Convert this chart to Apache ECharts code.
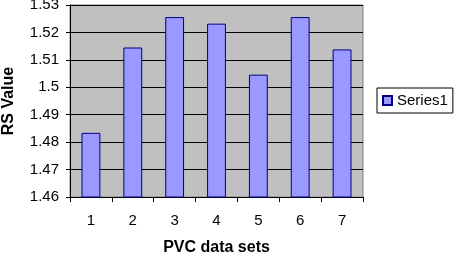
<!DOCTYPE html>
<html><head><meta charset="utf-8">
<script src="https://cdn.jsdelivr.net/npm/echarts@6/dist/echarts.min.js"></script>
<style>html,body{margin:0;padding:0;background:#fff}#c{width:458px;height:253px}</style>
</head><body><div id="c"></div>
<script>
var categories = ['1','2','3','4','5','6','7'];
var series1 = [1.4834, 1.5145, 1.5256, 1.5232, 1.5046, 1.5256, 1.5138];
var seriesName = 'Series1';
var yMin = 1.46, yMax = 1.53, yStep = 0.01;

var chart = echarts.init(document.getElementById('c'), null, {renderer:'canvas'});
var font = 'Liberation Sans, Arial, sans-serif';
chart.setOption({
  animation:false,
  backgroundColor:'#fff',
  grid:{left:70,right:95,top:5,bottom:56,containLabel:false,outerBoundsMode:'none',
    show:true,backgroundColor:'#c0c0c0',borderColor:'#808080',borderWidth:1},
  legend:{
    data:[seriesName], left:377, top:88, orient:'vertical',
    icon:'rect', itemWidth:9, itemHeight:9, itemGap:4,
    borderColor:'#000', borderWidth:1, padding:[5,5,5,5],
    backgroundColor:'#fff',
    textStyle:{fontFamily:font,fontSize:15,color:'#000'}
  },
  xAxis:{
    type:'category', data:categories,
    name:'PVC data sets', nameLocation:'middle', nameGap:43,
    nameTextStyle:{fontFamily:font,fontSize:16,fontWeight:'bold',color:'#000'},
    axisLine:{lineStyle:{color:'#000',width:1}},
    axisTick:{show:true,inside:false,length:5,lineStyle:{color:'#000'}},
    axisLabel:{fontFamily:font,fontSize:15,color:'#000',margin:16},
    splitLine:{show:false}
  },
  yAxis:{
    type:'value', min:yMin, max:yMax, interval:yStep,
    name:'RS Value', nameLocation:'middle', nameGap:53, nameRotate:90,
    nameTextStyle:{fontFamily:font,fontSize:16,fontWeight:'bold',color:'#000'},
    axisLine:{show:true,lineStyle:{color:'#000',width:1}},
    axisTick:{show:true,inside:false,length:4,lineStyle:{color:'#000'}},
    axisLabel:{fontFamily:font,fontSize:15,color:'#000',margin:11,
      formatter:function(v){return String(parseFloat(v.toFixed(2)));}},
    splitLine:{show:true,lineStyle:{color:'#000',width:1}}
  },
  series:[{
    name:seriesName, type:'bar', data:series1, barWidth:'45%',
    itemStyle:{color:'#9999ff',borderColor:'#000080',borderWidth:1}
  }]
});
</script></body></html>
